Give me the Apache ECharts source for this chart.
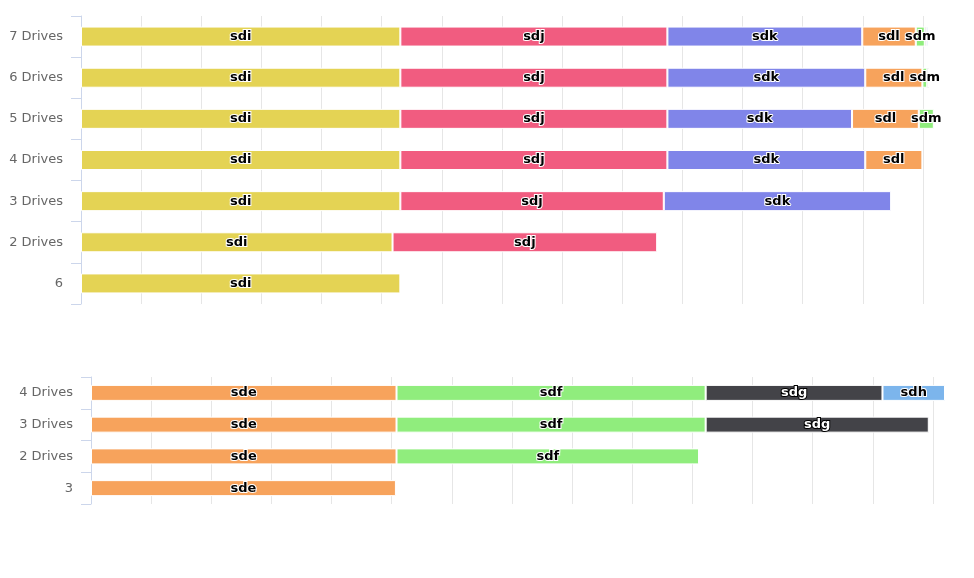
<!DOCTYPE html>
<html>
<head>
<meta charset="utf-8">
<script src="https://cdn.jsdelivr.net/npm/echarts@6/dist/echarts.min.js"></script>
<style>
  html, body { margin: 0; padding: 0; background: #fff; }
  #main { width: 974px; height: 578px; }
</style>
</head>
<body>
<div id="main"></div>
<script>
// upper chart: drives sdi .. sdo
var topCategories = ['6', '2 Drives', '3 Drives', '4 Drives', '5 Drives', '6 Drives', '7 Drives']
var sdi = [531, 518, 531, 531, 531, 531, 531]
var sdj = [null, 440, 438, 444, 444, 444, 444]
var sdk = [null, null, 378, 329, 307, 329, 324]
var sdl = [null, null, null, 95, 111, 95, 89]
var sdm = [null, null, null, null, 25, 8, 15]
var sdn = [null, null, null, null, null, 3, 3]
var sdo = [null, null, null, null, null, null, 3]

// lower chart: drives sde .. sdh
var bottomCategories = ['3', '2 Drives', '3 Drives', '4 Drives']
var sde = [507, 508, 508, 508]
var sdf = [null, 503, 514, 514]
var sdg = [null, null, 371, 294]
var sdh = [null, null, null, 104]

var axisFont = 'DejaVu Sans'

function makeX(gridIndex) {
  return {
    type: 'value',
    gridIndex: gridIndex,
    min: 0,
    max: 1400,
    interval: 100,
    axisLine: { show: false },
    axisTick: { show: false },
    axisLabel: { show: false },
    splitLine: { show: true, lineStyle: { color: '#e6e6e6', width: 1 } }
  }
}

function makeY(gridIndex, cats) {
  return {
    type: 'category',
    gridIndex: gridIndex,
    data: cats,
    axisLine: { show: true, onZero: false, lineStyle: { color: '#ccd6eb', width: 1 } },
    axisTick: { show: true, length: 10, lineStyle: { color: '#ccd6eb', width: 1 } },
    axisLabel: {
      color: '#666666',
      fontSize: 13,
      fontFamily: axisFont,
      margin: 18
    },
    splitLine: { show: false }
  }
}

function bar(name, values, color, gridIndex, stack, barWidth, labelOpt) {
  var label = {
    show: true,
    position: 'inside',
    formatter: name,
    color: '#000',
    fontSize: 13,
    fontWeight: 'bold',
    fontFamily: axisFont,
    textBorderColor: '#fff',
    textBorderWidth: 2
  }
  if (labelOpt) {
    Object.assign(label, labelOpt)
  }
  return {
    name: name,
    type: 'bar',
    stack: stack,
    xAxisIndex: gridIndex,
    yAxisIndex: gridIndex,
    data: values,
    barWidth: barWidth,
    clip: false,
    itemStyle: { color: color, borderColor: '#fff', borderWidth: 1 },
    label: label,
    emphasis: { disabled: true }
  }
}

var chart = echarts.init(document.getElementById('main'), null, { renderer: 'canvas' })
chart.setOption({
  animation: false,
  backgroundColor: '#fff',
  grid: [
    { left: 81, top: 16, width: 842, height: 288 },
    { left: 91, top: 377, width: 842, height: 127 }
  ],
  xAxis: [makeX(0), makeX(1)],
  yAxis: [makeY(0, topCategories), makeY(1, bottomCategories)],
  series: [
    bar('sdi', sdi, '#e4d354', 0, 'top', 20),
    bar('sdj', sdj, '#f15c80', 0, 'top', 20),
    bar('sdk', sdk, '#8085e9', 0, 'top', 20),
    bar('sdl', sdl, '#f7a35c', 0, 'top', 20),
    bar('sdm', sdm, '#90ed7d', 0, 'top', 20),
    // too thin, their labels are not shown
    bar('sdn', sdn, '#434348', 0, 'top', 20, { show: false }),
    bar('sdo', sdo, '#7cb5ec', 0, 'top', 20, { show: false }),
    bar('sde', sde, '#f7a35c', 1, 'bottom', 16),
    bar('sdf', sdf, '#90ed7d', 1, 'bottom', 16),
    bar('sdg', sdg, '#434348', 1, 'bottom', 16, { color: '#fff', textBorderColor: '#000' }),
    bar('sdh', sdh, '#7cb5ec', 1, 'bottom', 16)
  ]
})
</script>
</body>
</html>
